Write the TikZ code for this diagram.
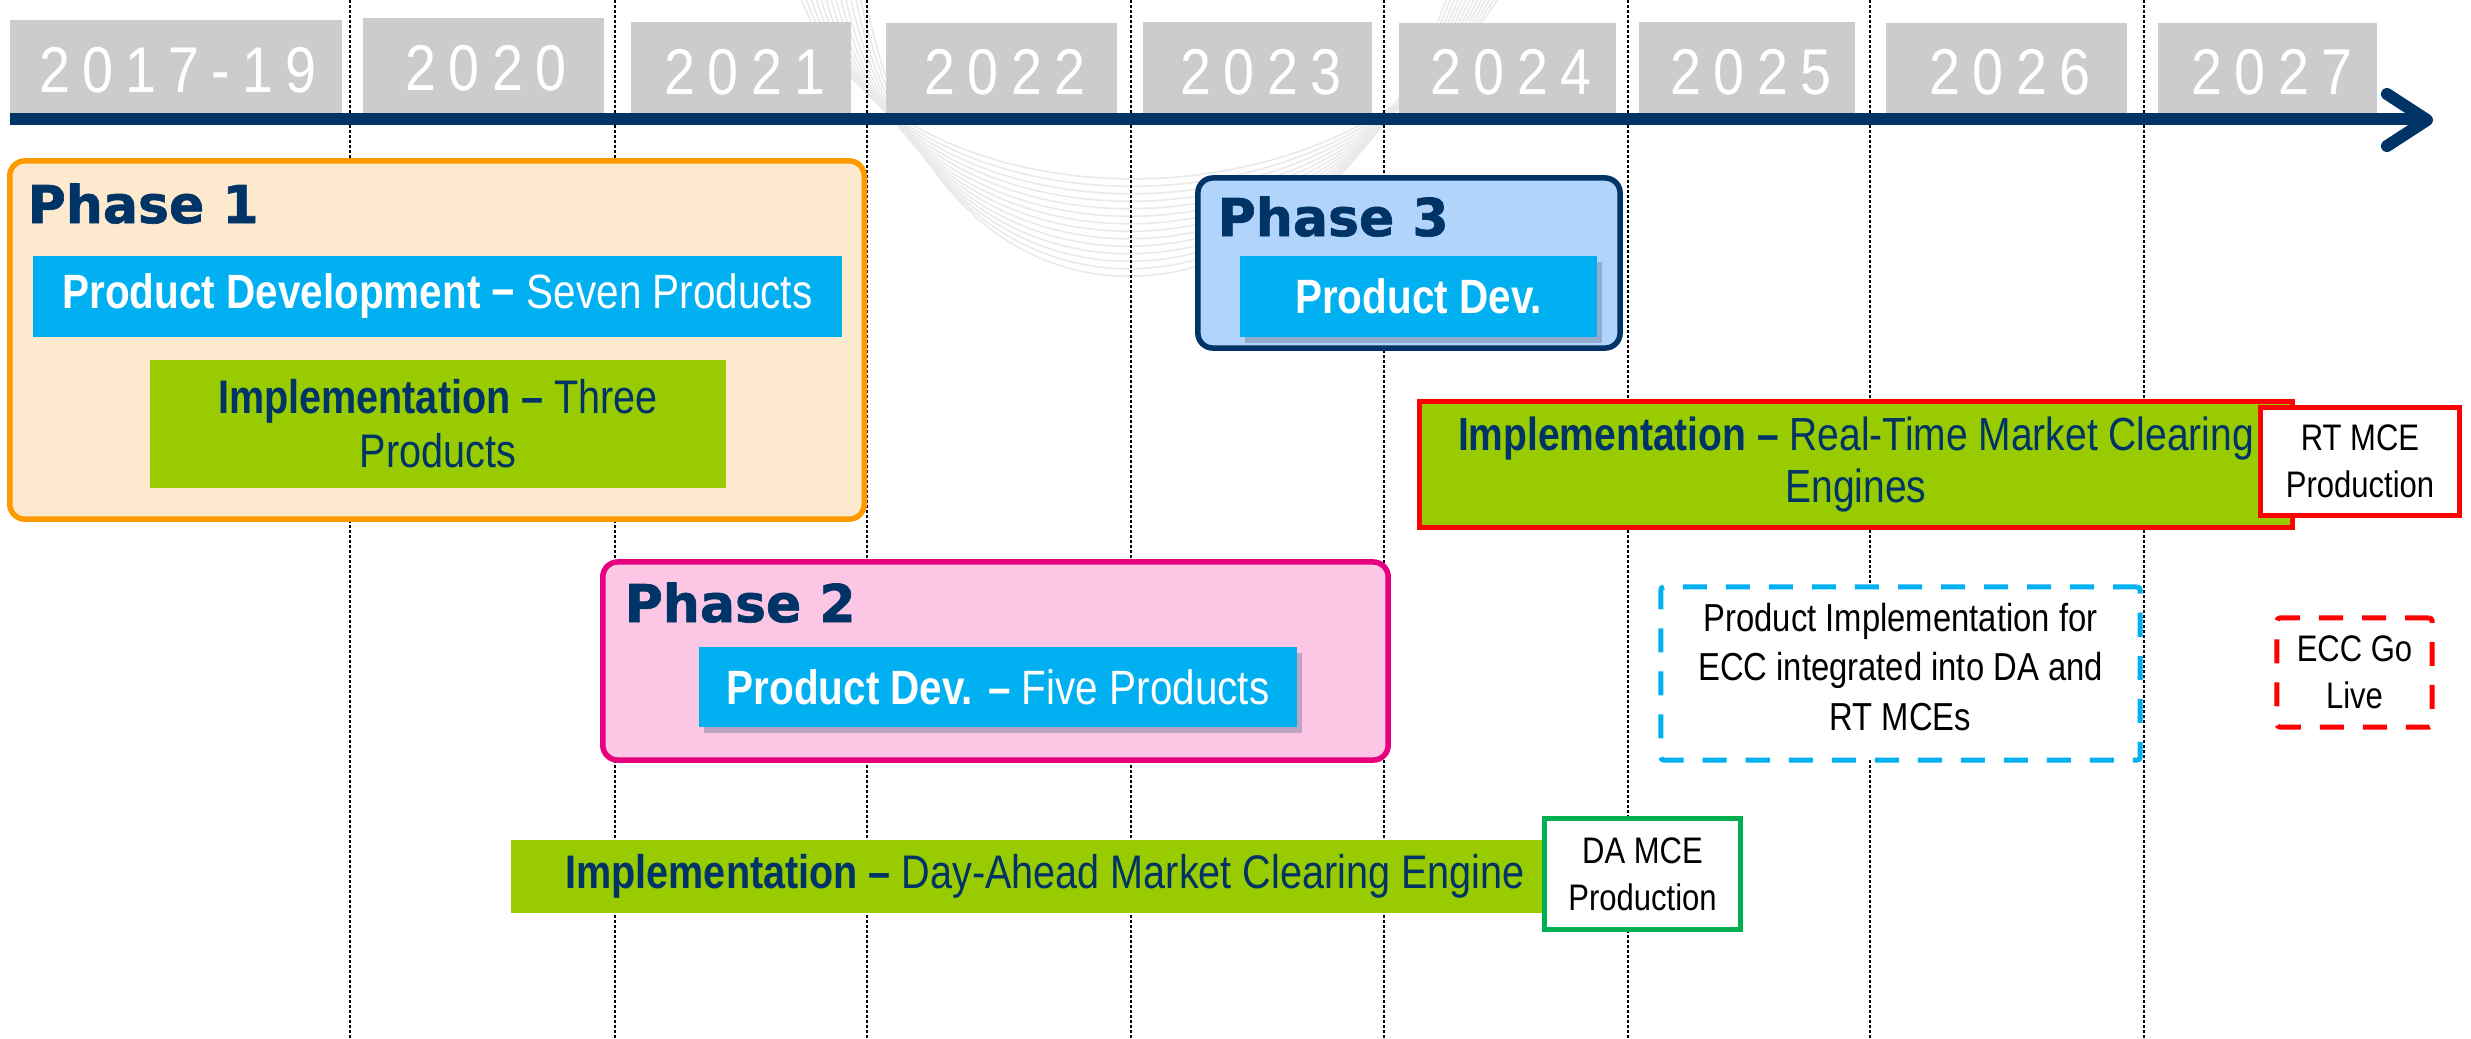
\documentclass[tikz,border=0pt]{standalone}
\usepackage{fontspec}
\setmainfont{Liberation Sans}
\newfontfamily\nf{Liberation Sans}[FakeStretch=0.84]
\newfontfamily\yf{Liberation Sans}[FakeStretch=0.86,LetterSpace=19]
\newfontfamily\pf{DejaVu Sans}[FakeBold=1.3]
\usetikzlibrary{shadows}
\definecolor{navy}{RGB}{0,51,102}
\definecolor{ygray}{RGB}{204,204,204}
\definecolor{cblue}{RGB}{0,176,240}
\definecolor{cgreen}{RGB}{153,204,0}
\definecolor{corange}{RGB}{255,153,0}
\definecolor{cpeach}{RGB}{253,233,205}
\definecolor{cltblue}{RGB}{176,212,252}
\definecolor{cmag}{RGB}{230,0,126}
\definecolor{cpink}{RGB}{252,198,229}
\definecolor{cred}{RGB}{255,0,0}
\definecolor{cdagreen}{RGB}{0,176,80}
\definecolor{shadowc}{RGB}{110,125,150}
\definecolor{wmgray}{RGB}{234,234,234}
\begin{document}
\begin{tikzpicture}[x=0.01cm,y=-0.01cm,
  vline/.style={black, line width=0.028cm, dash pattern=on 0.025cm off 0.025cm},
  wm/.style={wmgray, line width=0.016cm},
  yt/.style={text=white, font=\yf\fontsize{18.4}{20}\selectfont, anchor=base, inner sep=0pt},
  phasebox/.style={rounded corners=0.15cm, line width=0.055cm, inner sep=0pt},
  ptitle/.style={text=navy, font=\pf\bfseries\fontsize{14.8}{16}\selectfont, anchor=base west, inner sep=0pt},
  bluebox/.style={fill=cblue, text=white, font=\nf\fontsize{13.7}{15.4}\selectfont, align=center, inner sep=0pt},
  greenbox/.style={fill=cgreen, text=navy, font=\nf\fontsize{13.4}{15.2}\selectfont, align=center, inner sep=0pt},
  smallbox/.style={fill=white, line width=0.05cm, text=black, font=\nf\fontsize{10.5}{13.4}\selectfont, align=center, inner sep=0pt},
  dashbox/.style={fill=white, line width=0.05cm, dash pattern=on 0.24cm off 0.19cm, rounded corners=0.03cm, text=black, align=center, inner sep=0pt},
  shadowed/.style={drop shadow={shadow xshift=0.05cm, shadow yshift=-0.06cm, fill=shadowc, opacity=0.45}}
]
\useasboundingbox (0,0) rectangle (2471,1038);
\fill[white] (0,0) rectangle (2471,1038);

% faint background watermark
\begin{scope}
\clip (0,0) rectangle (2471,1038);
\foreach \i in {0,...,13}
  \draw[wm] (800+5*\i,-5) .. controls (880+4*\i,230+11*\i) and (1350-3*\i,250+9*\i) .. (1500-4*\i,-5);
\end{scope}

% dotted year separators
\foreach \xx in {350,615,867,1131,1384,1628,1870,2144}
  \draw[vline] (\xx,0) -- (\xx,1038);

% year boxes
\fill[ygray] (10,20) rectangle (342,113);
\fill[ygray] (363,18) rectangle (604,113);
\fill[ygray] (631,22) rectangle (851,113);
\fill[ygray] (886,23) rectangle (1117,113);
\fill[ygray] (1143,22) rectangle (1372,113);
\fill[ygray] (1399,23) rectangle (1616,113);
\fill[ygray] (1639,22) rectangle (1855,113);
\fill[ygray] (1886,23) rectangle (2127,113);
\fill[ygray] (2158,23) rectangle (2377,113);
\node[yt] (y1719) at (178,92) {2017-19};
\node[yt] (y2020) at (486,90) {2020};
\node[yt] (y2021) at (745,94) {2021};
\node[yt] (y2022) at (1005,94) {2022};
\node[yt] (y2023) at (1261,94) {2023};
\node[yt] (y2024) at (1511,94) {2024};
\node[yt] (y2025) at (1751,94) {2025};
\node[yt] (y2026) at (2010,94) {2026};
\node[yt] (y2027) at (2272,94) {2027};

% timeline
\draw[navy, line width=0.12cm] (10,119) -- (2420,119);
\draw[navy, line width=0.12cm, line cap=round, line join=round] (2387,94) -- (2427,120) -- (2387,146);

% Phase 1
\node[phasebox, draw=corange, fill=cpeach, minimum width=8.54cm, minimum height=3.58cm] (ph1) at (437,340) {};
\node[ptitle] (ph1t) at (27,223) {Phase 1};
\node[bluebox, minimum width=8.09cm, minimum height=0.81cm] (ph1dev) at (437.5,296.5)
  {\textbf{Product Development −} Seven Products};
\node[greenbox, minimum width=5.76cm, minimum height=1.28cm, font=\nf\fontsize{13.4}{15.4}\selectfont] (ph1imp) at (438,424)
  {\textbf{Implementation –} Three\\Products};

% Phase 3
\node[phasebox, draw=navy, fill=cltblue, minimum width=4.22cm, minimum height=1.70cm] (ph3) at (1409,263) {};
\node[ptitle] (ph3t) at (1217,236) {Phase 3};
\node[bluebox, shadowed, minimum width=3.57cm, minimum height=0.81cm] (ph3dev) at (1418.5,296.5)
  {\textbf{Product Dev.}};

% Phase 2
\node[phasebox, draw=cmag, fill=cpink, minimum width=7.85cm, minimum height=1.98cm] (ph2) at (995.5,661) {};
\node[ptitle] (ph2t) at (624,622) {Phase 2};
\node[bluebox, shadowed, minimum width=5.98cm, minimum height=0.80cm] (ph2dev) at (998,687)
  {\textbf{Product Dev. –} Five Products};

% Real-time implementation
\node[greenbox, draw=cred, line width=0.05cm, minimum width=8.72cm, minimum height=1.25cm, font=\nf\fontsize{13.2}{14.8}\selectfont] (rtimp) at (1856,464.5)
  {\textbf{Implementation –} Real-Time Market Clearing\\Engines};
\node[smallbox, draw=cred, minimum width=1.98cm, minimum height=1.07cm] (rtmce) at (2360,461.5)
  {RT MCE\\Production};

% ECC
\node[dashbox, draw=cblue, minimum width=4.79cm, minimum height=1.73cm] (ecc) at (1900.5,673.5) {};
\node[text=black, align=center, inner sep=0pt, font=\nf\fontsize{11.1}{14.2}\selectfont] (ecct) at (1900.5,667)
  {Product Implementation for\\ECC integrated into DA and\\RT MCEs};
\node[dashbox, draw=cred, minimum width=1.55cm, minimum height=1.09cm, font=\nf\fontsize{10.5}{13.4}\selectfont] (eccgo) at (2354.5,672.5)
  {ECC Go\\Live};

% Day-ahead implementation
\node[greenbox, minimum width=10.68cm, minimum height=0.73cm] (daimp) at (1045,876.5)
  {\textbf{Implementation –} Day-Ahead Market Clearing Engine};
\node[smallbox, draw=cdagreen, minimum width=1.95cm, minimum height=1.10cm] (damce) at (1642.5,874)
  {DA MCE\\Production};
\end{tikzpicture}
\end{document}
